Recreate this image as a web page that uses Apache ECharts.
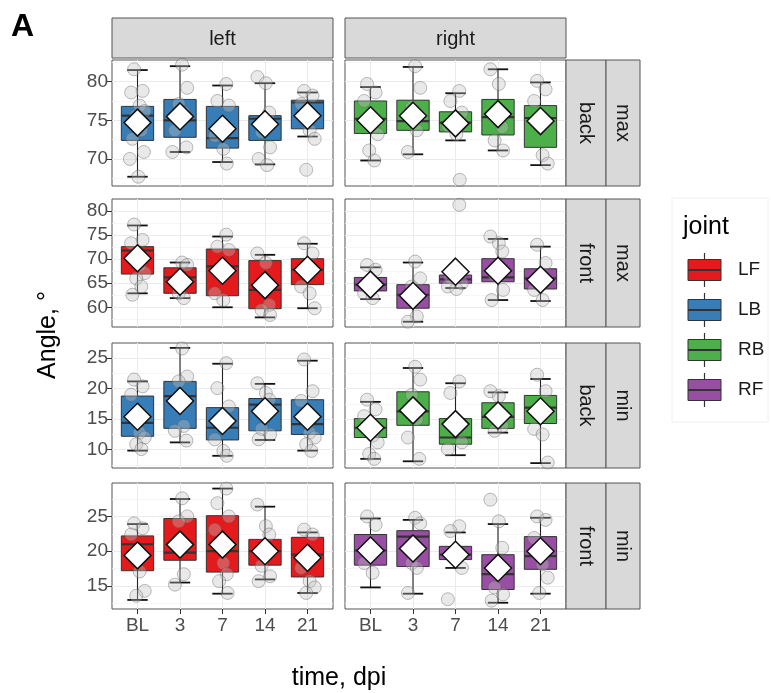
<!DOCTYPE html>
<html><head><meta charset="utf-8">
<script src="https://cdn.jsdelivr.net/npm/echarts@6/dist/echarts.min.js"></script>
<style>html,body{margin:0;padding:0;background:#fff}#c{width:771px;height:693px}</style>
</head><body><div id="c"></div>
<script>
// ---------- categories / labels ----------
const CATEGORIES = ['BL', '3', '7', '14', '21'];
const COL_LABELS = ['left', 'right'];
const ROW_POS_LABELS = ['back', 'front', 'back', 'front'];
const ROW_STAT_LABELS = ['max', 'max', 'min', 'min'];
const JOINTS = ['LF', 'LB', 'RB', 'RF'];
const JOINT_COLORS = ['#E41A1C', '#377EB8', '#4DAF4A', '#984EA3'];

// ---------- y tick labels per facet row ----------
const Y_TICKS = [[70, 75, 80], [60, 65, 70, 75, 80], [10, 15, 20, 25], [15, 20, 25]];
const Y_MINOR = [[67.5, 72.5, 77.5, 82.5], [57.5, 62.5, 67.5, 72.5, 77.5], [7.5, 12.5, 17.5, 22.5], [12.5, 17.5, 22.5, 27.5]];
const Y_RANGE = [[66.5, 82.8], [55.9, 82.5], [7.0, 27.5], [11.7, 29.8]];
const JITTER = [-0.08, 0.12, -0.15, 0.05, 0.17, -0.03, 0.09, -0.12, 0.15, -0.18, 0.02, 0.1];

// ---------- box stats [min, Q1, median, Q3, max], means, points ----------
const LB_MAX_BOX = [[67.7, 72.4, 75.6, 76.8, 81.5], [70.9, 72.8, 75.0, 77.7, 82.0], [69.6, 71.4, 72.7, 76.8, 79.5], [69.3, 72.4, 75.2, 75.6, 79.8], [72.9, 73.9, 77.3, 77.6, 78.6]];
const LB_MAX_MEAN = [74.7, 75.5, 73.9, 74.5, 75.6];
const LB_MAX_PTS = [[81.6, 78.8, 78.6, 76.9, 76.2, 75.6, 73.7, 72.6, 70.9, 70.0, 67.7], [82.2, 79.2, 77.1, 76.0, 73.7, 71.5, 70.9], [79.7, 77.5, 76.9, 73.0, 71.3, 69.4], [80.6, 79.8, 76.0, 73.5, 71.5, 70.0, 69.2], [78.8, 78.2, 77.1, 73.7, 72.6, 68.6]];

const RB_MAX_BOX = [[69.8, 73.3, 75.2, 77.5, 79.3], [70.6, 73.7, 74.9, 77.6, 81.9], [72.4, 73.5, 74.7, 76.1, 78.5], [71.1, 73.1, 75.4, 77.7, 81.6], [69.2, 71.5, 75.3, 76.9, 79.9]];
const RB_MAX_MEAN = [75.0, 75.6, 74.6, 75.8, 74.9];
const RB_MAX_PTS = [[79.7, 78.6, 77.5, 75.4, 73.2, 71.1, 69.8], [82.0, 79.2, 76.7, 73.7, 70.9], [78.8, 77.5, 76.0, 74.3, 73.2, 67.3], [81.6, 79.7, 74.1, 72.4, 71.1], [80.1, 79.0, 77.5, 70.5, 69.4]];

const LF_MAX_BOX = [[62.9, 66.9, 71.8, 72.6, 77.0], [61.9, 62.9, 66.2, 68.2, 69.3], [60.0, 62.4, 68.5, 72.1, 74.7], [57.9, 59.7, 63.6, 69.7, 70.9], [59.8, 64.7, 67.8, 70.1, 73.2]];
const LF_MAX_MEAN = [70.2, 65.3, 67.6, 64.6, 67.8];
const LF_MAX_PTS = [[77.2, 74.0, 73.3, 68.8, 67.1, 66.0, 64.3, 62.6], [69.3, 68.8, 62.9, 61.9], [75.1, 72.6, 71.9, 62.9, 61.5], [71.2, 69.2, 60.5, 59.4, 58.4], [73.3, 71.2, 64.3, 62.9, 59.8]];

const RF_MAX_BOX = [[61.7, 63.4, 64.7, 66.2, 68.3], [57.0, 59.8, 62.6, 64.7, 69.3], [64.0, 65.0, 65.8, 66.7, 67.0], [61.5, 65.3, 66.2, 70.1, 74.2], [61.3, 63.8, 66.0, 68.0, 72.6]];
const RF_MAX_MEAN = [64.7, 62.4, 67.4, 67.6, 65.7];
const RF_MAX_PTS = [[68.8, 67.8, 62.9, 61.9], [69.5, 66.0, 64.3, 58.1, 57.0], [81.3, 66.2, 65.0, 64.3, 63.8], [74.7, 73.3, 71.6, 66.7, 63.6, 61.5], [73.0, 69.2, 63.6, 61.5]];

const LB_MIN_BOX = [[9.85, 12.2, 14.4, 18.8, 21.2], [11.2, 13.5, 18.8, 21.2, 26.7], [9.0, 11.6, 13.6, 16.9, 24.1], [11.6, 13.1, 17.4, 18.4, 20.8], [9.85, 12.5, 14.2, 18.2, 24.6]];
const LB_MIN_MEAN = [15.4, 18.0, 14.7, 16.3, 15.4];
const LB_MIN_PTS = [[21.5, 20.4, 19.0, 12.8, 12.0, 10.9, 10.1], [26.6, 22.0, 21.2, 13.9, 13.1, 11.5], [24.2, 20.1, 17.1, 11.7, 9.8, 9.0], [20.9, 19.3, 18.2, 13.4, 12.5, 11.7], [24.8, 19.6, 18.0, 12.8, 12.0, 10.9, 9.8]];

const RB_MIN_BOX = [[8.5, 12.0, 13.6, 15.1, 17.85], [8.1, 14.0, 16.3, 19.5, 23.4], [9.1, 10.9, 12.0, 15.1, 20.9], [12.8, 13.5, 15.4, 17.7, 19.4], [7.8, 14.3, 16.9, 18.9, 21.6]];
const RB_MIN_MEAN = [13.6, 16.45, 14.2, 15.6, 16.3];
const RB_MIN_PTS = [[18.2, 16.6, 15.5, 12.3, 11.2, 9.3, 8.5], [23.6, 21.5, 19.0, 15.0, 12.0, 8.5], [21.2, 19.3, 11.2, 10.1], [19.6, 18.8, 13.9, 13.1], [22.3, 19.6, 13.4, 12.5, 7.9]];

const LF_MIN_BOX = [[13.0, 17.2, 21.0, 22.2, 23.9], [15.5, 18.7, 19.8, 24.7, 27.5], [13.9, 17.0, 20.0, 25.1, 29.0], [15.95, 18.0, 20.0, 21.7, 26.4], [14.0, 16.3, 19.5, 22.0, 22.7]];
const LF_MIN_MEAN = [19.4, 20.95, 20.95, 20.0, 19.05];
const LF_MIN_PTS = [[24.0, 23.3, 22.4, 17.1, 14.3, 13.6], [27.6, 25.0, 24.3, 16.7, 15.2], [29.0, 26.9, 25.0, 23.1, 18.3, 16.7, 15.7, 14.0], [26.7, 23.6, 22.4, 17.9, 16.4, 15.7], [23.1, 22.4, 17.6, 15.7, 14.8, 14.0]];

const RF_MIN_BOX = [[14.8, 18.0, 20.1, 22.4, 24.7], [13.9, 17.8, 22.1, 22.95, 24.5], [17.6, 18.8, 19.5, 20.7, 22.7], [12.6, 14.5, 16.7, 19.5, 23.9], [13.9, 17.4, 19.3, 22.1, 24.8]];
const RF_MIN_MEAN = [20.1, 20.4, 19.5, 17.6, 20.0];
const RF_MIN_PTS = [[25.0, 23.8, 18.3, 16.9], [24.8, 24.0, 18.3, 17.6, 14.0], [23.6, 22.9, 17.6, 13.1], [27.4, 24.3, 20.5, 14.8, 13.8, 12.9], [25.0, 24.5, 21.9, 18.1, 16.2, 14.0]];

const PANELS = [
  { row: 0, col: 0, joint: 'LB', box: LB_MAX_BOX, mean: LB_MAX_MEAN, pts: LB_MAX_PTS },
  { row: 0, col: 1, joint: 'RB', box: RB_MAX_BOX, mean: RB_MAX_MEAN, pts: RB_MAX_PTS },
  { row: 1, col: 0, joint: 'LF', box: LF_MAX_BOX, mean: LF_MAX_MEAN, pts: LF_MAX_PTS },
  { row: 1, col: 1, joint: 'RF', box: RF_MAX_BOX, mean: RF_MAX_MEAN, pts: RF_MAX_PTS },
  { row: 2, col: 0, joint: 'LB', box: LB_MIN_BOX, mean: LB_MIN_MEAN, pts: LB_MIN_PTS },
  { row: 2, col: 1, joint: 'RB', box: RB_MIN_BOX, mean: RB_MIN_MEAN, pts: RB_MIN_PTS },
  { row: 3, col: 0, joint: 'LF', box: LF_MIN_BOX, mean: LF_MIN_MEAN, pts: LF_MIN_PTS },
  { row: 3, col: 1, joint: 'RF', box: RF_MIN_BOX, mean: RF_MIN_MEAN, pts: RF_MIN_PTS }
];

// ---------- layout ----------
const FONT = '"Liberation Sans", Arial, sans-serif';
const COL_X = [112, 345];
const COL_W = 221;
const ROW_Y = [60, 199, 343, 483];
const ROW_H = [126, 128, 125, 126];

function boxRenderer(color) {
  return function (params, api) {
    const x = api.value(0);
    const p = [1, 2, 3, 4, 5].map(k => api.coord([x, api.value(k)]));
    const bw = api.size([0.76, 0])[0];
    const cw = api.size([0.48, 0])[0];
    const cx = p[0][0];
    const ws = { stroke: '#222', lineWidth: 1.1 };
    const cs = { stroke: '#111', lineWidth: 1.8 };
    return {
      type: 'group',
      children: [
        { type: 'line', shape: { x1: cx, y1: p[4][1], x2: cx, y2: p[3][1] }, style: ws },
        { type: 'line', shape: { x1: cx, y1: p[1][1], x2: cx, y2: p[0][1] }, style: ws },
        { type: 'line', shape: { x1: cx - cw / 2, y1: p[4][1], x2: cx + cw / 2, y2: p[4][1] }, style: cs },
        { type: 'line', shape: { x1: cx - cw / 2, y1: p[0][1], x2: cx + cw / 2, y2: p[0][1] }, style: cs },
        { type: 'rect', shape: { x: cx - bw / 2, y: p[3][1], width: bw, height: p[1][1] - p[3][1] }, style: { fill: color, stroke: '#333', lineWidth: 1 } },
        { type: 'line', shape: { x1: cx - bw / 2, y1: p[2][1], x2: cx + bw / 2, y2: p[2][1] }, style: { stroke: '#333', lineWidth: 2.2 } }
      ]
    };
  };
}

const grids = [], xAxes = [], yAxes = [], minorY = [], series = [];
PANELS.forEach((pn, g) => {
  const r = pn.row, c = pn.col;
  grids.push({ left: COL_X[c], top: ROW_Y[r], width: COL_W, height: ROW_H[r], show: true, borderColor: '#555', borderWidth: 1, backgroundColor: '#fff', outerBoundsMode: 'none' });
  xAxes.push({
    gridIndex: g, type: 'value', min: -0.6, max: 4.6,
    axisLine: { show: false },
    axisTick: { show: r === 3, length: 5, customValues: [0, 1, 2, 3, 4], lineStyle: { color: '#333' } },
    axisLabel: { show: r === 3, customValues: [0, 1, 2, 3, 4], formatter: v => CATEGORIES[Math.round(v)], margin: 7, color: '#4D4D4D', fontSize: 19, fontFamily: FONT },
    splitLine: { show: true, lineStyle: { color: '#EBEBEB', width: 1 } }
  });
  yAxes.push({
    gridIndex: g, type: 'value', position: 'left', min: Y_RANGE[r][0], max: Y_RANGE[r][1],
    axisLine: { show: false },
    axisTick: { show: c === 0, length: 5, customValues: Y_TICKS[r], lineStyle: { color: '#333' } },
    axisLabel: { show: c === 0, customValues: Y_TICKS[r], margin: 4, color: '#4D4D4D', fontSize: 19, fontFamily: FONT },
    splitLine: { show: true, lineStyle: { color: '#EBEBEB', width: 1 } }
  });
  minorY.push({
    gridIndex: g, type: 'value', min: Y_RANGE[r][0], max: Y_RANGE[r][1], position: 'right',
    axisLine: { show: false },
    axisTick: { show: false, customValues: Y_MINOR[r] },
    axisLabel: { show: false },
    splitLine: { show: true, lineStyle: { color: '#F4F4F4', width: 0.8 } }
  });
  const color = JOINT_COLORS[JOINTS.indexOf(pn.joint)];
  series.push({
    type: 'custom', xAxisIndex: g, yAxisIndex: 8 + g, z: 2,
    renderItem: boxRenderer(color),
    encode: { x: 0, y: [1, 2, 3, 4, 5] },
    data: pn.box.map((b, i) => [i].concat(b))
  });
  const pts = [];
  pn.pts.forEach((arr, i) => arr.forEach((v, k) => pts.push([i + JITTER[(k + i * 3) % JITTER.length], v])));
  series.push({
    type: 'scatter', xAxisIndex: g, yAxisIndex: 8 + g, z: 3, symbol: 'circle', symbolSize: 13,
    itemStyle: { color: 'rgba(195,195,195,0.45)', borderColor: 'rgba(90,90,90,0.5)', borderWidth: 1 },
    data: pts
  });
  series.push({
    type: 'scatter', xAxisIndex: g, yAxisIndex: 8 + g, z: 4, symbol: 'diamond', symbolSize: [27, 27],
    itemStyle: { color: '#fff', borderColor: '#111', borderWidth: 1.5, opacity: 1 },
    data: pn.mean.map((m, i) => [i, m])
  });
});

// ---------- graphics: strips, titles, legend ----------
const gfx = [];
function txt(x, y, text, size, opts) {
  opts = opts || {};
  return {
    type: 'text', x: x, y: y, rotation: opts.rot || 0, z: 10,
    style: { text: text, fill: opts.fill || '#1A1A1A', font: (opts.weight || 'normal') + ' ' + size + 'px ' + FONT,
      textAlign: opts.align || 'center', align: opts.align || 'center', textVerticalAlign: 'middle', verticalAlign: 'middle' }
  };
}
function rect(x, y, w, h, fill, stroke) {
  return { type: 'rect', z: 9, shape: { x: x, y: y, width: w, height: h }, style: { fill: fill, stroke: stroke, lineWidth: 1 } };
}
gfx.push(txt(11, 27, 'A', 32, { weight: 'bold', align: 'left', fill: '#000' }));
COL_LABELS.forEach((lab, c) => {
  gfx.push(rect(COL_X[c], 18, COL_W, 40, '#D9D9D9', '#555'));
  gfx.push(txt(COL_X[c] + COL_W / 2, 39, lab, 20));
});
for (let r = 0; r < 4; r++) {
  const cy = ROW_Y[r] + ROW_H[r] / 2;
  gfx.push(rect(566, ROW_Y[r], 40, ROW_H[r], '#D9D9D9', '#555'));
  gfx.push(rect(606, ROW_Y[r], 34, ROW_H[r], '#D9D9D9', '#555'));
  gfx.push(txt(586, cy, ROW_POS_LABELS[r], 20, { rot: -Math.PI / 2 }));
  gfx.push(txt(623, cy, ROW_STAT_LABELS[r], 20, { rot: -Math.PI / 2 }));
}
gfx.push(txt(48, 335, 'Angle, °', 25, { rot: Math.PI / 2, fill: '#000' }));
gfx.push(txt(339, 678, 'time, dpi', 25, { fill: '#000' }));
// legend
gfx.push({ type: 'rect', z: 8, shape: { x: 672, y: 198, width: 96, height: 224 }, style: { fill: '#fff', stroke: '#F0F0F0', lineWidth: 1 } });
gfx.push(txt(683, 227, 'joint', 25, { align: 'left', fill: '#000' }));
const LEG_Y = [270, 310, 350, 390];
JOINTS.forEach((j, i) => {
  const y = LEG_Y[i];
  gfx.push({ type: 'line', z: 9, shape: { x1: 704.5, y1: y - 17, x2: 704.5, y2: y + 17 }, style: { stroke: '#333', lineWidth: 1.2 } });
  gfx.push(rect(688, y - 10.5, 33, 21, JOINT_COLORS[i], '#333'));
  gfx.push({ type: 'line', z: 10, shape: { x1: 688, y1: y, x2: 721, y2: y }, style: { stroke: '#333', lineWidth: 2 } });
  gfx.push(txt(738, y, j, 19, { align: 'left' }));
});

const chart = echarts.init(document.getElementById('c'), null, { renderer: 'canvas' });
chart.setOption({
  animation: false,
  backgroundColor: '#fff',
  grid: grids,
  xAxis: xAxes,
  yAxis: minorY.concat(yAxes),
  series: series,
  graphic: gfx
});
</script>
</body></html>
